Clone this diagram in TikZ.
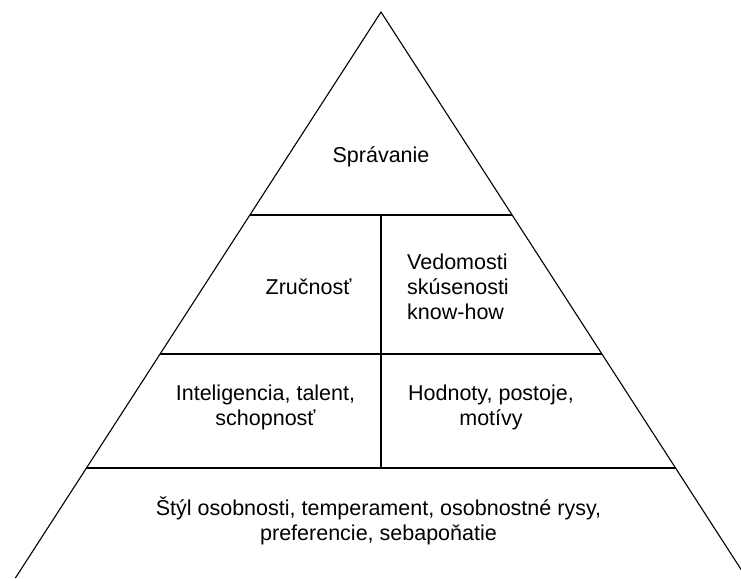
\documentclass[tikz,border=0pt]{standalone}
\usepackage{fontspec}
\setmainfont{Liberation Sans}
\usetikzlibrary{positioning,calc}

\tikzset{
  layer/.style={font=\fontsize{21.5}{25}\selectfont, align=center, inner sep=0pt},
  edge/.style={line width=1.1pt, draw=black}
}

\begin{document}
\begin{tikzpicture}[x=1pt, y=-1pt]
  \useasboundingbox (0,0) rectangle (741,578);
  \clip (0,0) rectangle (741,578);
  % pyramid outline
  \coordinate (apex) at (381,12);
  \coordinate (bl) at (15.4,578);
  \coordinate (br) at (746.6,578);
  \draw[edge] (bl) -- (apex) -- (br);
  % levels
  \coordinate (l1) at ($(apex)!0.3587!(bl)$);
  \coordinate (r1) at ($(apex)!0.3587!(br)$);
  \coordinate (l2) at ($(apex)!0.6042!(bl)$);
  \coordinate (r2) at ($(apex)!0.6042!(br)$);
  \coordinate (l3) at ($(apex)!0.8057!(bl)$);
  \coordinate (r3) at ($(apex)!0.8057!(br)$);
  \draw[edge] (l1) -- (r1);
  \draw[edge] (l2) -- (r2);
  \draw[edge] (l3) -- (r3);
  \coordinate (m1) at (381,215);
  \coordinate (m3) at (381,468);
  \draw[edge] (m1) -- (m3);
  % texts (base = last line)
  \node[layer, anchor=base] (behav) at (381,162) {Správanie};
  \node[layer, anchor=base] (skill) at (308.5,294) {Zručnosť};
  \node[layer, align=left, anchor=base west] (know) at (407,319) {Vedomosti\\skúsenosti\\know-how};
  \node[layer, anchor=base] (intel) at (265.5,425) {Inteligencia, talent,\\schopnosť};
  \node[layer, anchor=base] (values) at (491,425) {Hodnoty, postoje,\\motívy};
  \node[layer, anchor=base] (style) at (378.5,540) {Štýl osobnosti, temperament, osobnostné rysy,\\preferencie, sebapoňatie};
\end{tikzpicture}
\end{document}
